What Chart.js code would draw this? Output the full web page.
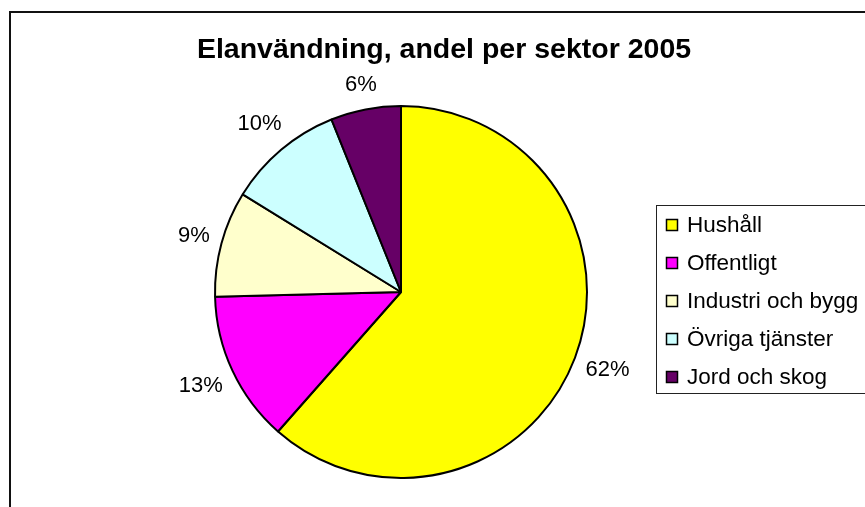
<!DOCTYPE html>
<html>
<head>
<meta charset="utf-8">
<script src="https://cdn.jsdelivr.net/npm/chart.js@4"></script>
<style>
  html, body { margin: 0; padding: 0; background: #fff; overflow: hidden; }
  #wrap { position: relative; width: 865px; height: 507px; overflow: hidden; }
  #frame {
    position: absolute; left: 9px; top: 11px; width: 1000px; height: 700px;
    border-left: 2px solid #111; border-top: 2px solid #111;
  }
  canvas { position: absolute; left: 0; top: 0; }
</style>
</head>
<body>
<div id="wrap">
  <div id="frame"></div>
  <canvas id="pieChart" width="865" height="507"></canvas>
</div>
<script>
const chartTitle = "Elanvändning, andel per sektor 2005";
const sectors = ["Hushåll", "Offentligt", "Industri och bygg", "Övriga tjänster", "Jord och skog"];
const shares = [61.5, 13.1, 9.2, 10.1, 6.1];
const sectorColors = ["#FFFF00", "#FF00FF", "#FFFFCC", "#CCFFFF", "#660066"];

const FONT = '"Liberation Sans", Arial, sans-serif';

// titre dessiné à la main (pas de place prise dans le layout)
const titlePlugin = {
  id: "excelTitle",
  afterDraw(chart) {
    const ctx = chart.ctx;
    ctx.save();
    ctx.font = "bold 28.5px " + FONT;
    ctx.fillStyle = "#000";
    ctx.textAlign = "center";
    ctx.textBaseline = "alphabetic";
    ctx.fillText(chartTitle, 444, 58);
    ctx.restore();
  }
};

// étiquettes % à l'extérieur des parts
const pctPlugin = {
  id: "pctLabels",
  afterDatasetsDraw(chart) {
    const ctx = chart.ctx;
    const meta = chart.getDatasetMeta(0);
    const total = shares.reduce((a, b) => a + b, 0);
    ctx.save();
    ctx.font = "22px " + FONT;
    ctx.fillStyle = "#000";
    ctx.textAlign = "center";
    ctx.textBaseline = "middle";
    meta.data.forEach((arc, i) => {
      const p = arc.getProps(["x", "y", "startAngle", "endAngle", "outerRadius"], true);
      const mid = (p.startAngle + p.endAngle) / 2;
      const c = Math.cos(mid), s = Math.sin(mid);
      const txt = Math.round(shares[i] / total * 100) + "%";
      const w = ctx.measureText(txt).width;
      const h = 24;
      const r = p.outerRadius + 10 + Math.abs(c) * w / 2 + Math.abs(s) * h / 2;
      ctx.fillText(txt, p.x + c * r, p.y + s * r);
    });
    ctx.restore();
  }
};

// légende encadrée à droite
const legendPlugin = {
  id: "boxLegend",
  afterDraw(chart) {
    const ctx = chart.ctx;
    ctx.save();
    ctx.strokeStyle = "#222";
    ctx.lineWidth = 1;
    ctx.strokeRect(656.5, 205.5, 300, 188);
    ctx.font = "22.5px " + FONT;
    ctx.textBaseline = "middle";
    ctx.textAlign = "left";
    sectors.forEach((name, i) => {
      const y = 225 + i * 38;
      ctx.fillStyle = sectorColors[i];
      ctx.fillRect(666, y - 6, 12, 12);
      ctx.strokeStyle = "#000";
      ctx.lineWidth = 1.5;
      ctx.strokeRect(666.5, y - 5.5, 11, 11);
      ctx.fillStyle = "#000";
      ctx.fillText(name, 687, y + 1);
    });
    ctx.restore();
  }
};

const ctx = document.getElementById("pieChart").getContext("2d");
new Chart(ctx, {
  type: "pie",
  data: {
    labels: sectors,
    datasets: [{
      data: shares,
      backgroundColor: sectorColors,
      borderColor: "#000",
      borderWidth: 2,
      borderAlign: "center"
    }]
  },
  options: {
    responsive: false,
    animation: false,
    events: [],
    layout: { padding: { left: 214, right: 277, top: 105, bottom: 28 } },
    plugins: {
      legend: { display: false },
      title: { display: false },
      tooltip: { enabled: false }
    }
  },
  plugins: [pctPlugin, legendPlugin, titlePlugin]
});
</script>
</body>
</html>
